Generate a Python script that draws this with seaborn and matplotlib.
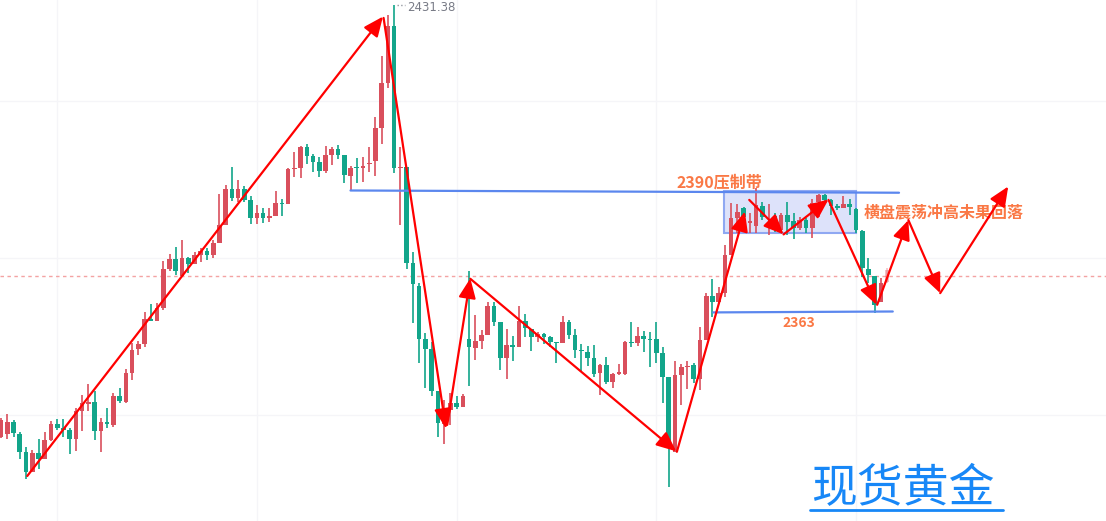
import numpy as np
import matplotlib
matplotlib.use('Agg')
import matplotlib.pyplot as plt
import seaborn as sns

# 现货黄金 K线（红涨绿跌）
opens = [
    2335.1, 2335.8, 2338.5, 2335.8, 2331.8, 2327.3, 2331.5, 2330.2, 2334.4, 2338.0,
    2337.1, 2336.7, 2334.7, 2340.9, 2342.5, 2342.9, 2336.4, 2338.5, 2337.8, 2344.3,
    2342.9, 2349.4, 2354.7, 2355.9, 2361.4, 2361.0, 2363.9, 2372.6, 2374.8, 2371.0,
    2375.0, 2373.7, 2375.7, 2376.6, 2375.7, 2378.4, 2382.4, 2390.4, 2388.4, 2390.4,
    2388.0, 2384.0, 2385.1, 2384.0, 2384.4, 2387.3, 2387.1, 2394.9, 2395.1, 2399.8,
    2397.8, 2396.5, 2394.5, 2398.0, 2399.4, 2398.0, 2393.3, 2395.3, 2395.1, 2396.0,
    2396.7, 2404.0, 2414.1, 2426.8, 2395.1, 2395.3, 2373.9, 2368.8, 2357.0, 2354.7,
    2345.4, 2338.0, 2341.1, 2342.7, 2341.8, 2357.0, 2355.0, 2356.5, 2357.9, 2364.3,
    2360.8, 2352.7, 2355.6, 2355.2, 2361.0, 2359.2, 2357.4, 2358.1, 2357.4, 2356.3,
    2356.1, 2360.8, 2357.9, 2354.5, 2354.1, 2352.7, 2349.4, 2351.2, 2347.4, 2349.2,
    2349.2, 2356.3, 2356.1, 2357.6, 2357.0, 2357.0, 2353.8, 2348.5, 2331.8, 2348.9,
    2350.7, 2351.2, 2348.0, 2356.7, 2366.6, 2365.2, 2367.2, 2375.7, 2384.0, 2386.2,
    2382.8, 2382.2, 2386.6, 2382.6, 2384.4, 2381.3, 2384.6, 2383.3, 2381.7, 2383.5,
    2381.7, 2387.5, 2389.1, 2388.0, 2386.6, 2386.2, 2387.1, 2386.0, 2381.1, 2372.6,
    2371.0, 2365.2, 2369.7]

closes = [
    2338.9, 2338.5, 2336.0, 2331.8, 2327.3, 2331.5, 2330.2, 2334.4, 2338.0, 2337.1,
    2336.7, 2334.7, 2340.9, 2342.7, 2342.7, 2336.4, 2338.5, 2338.0, 2344.3, 2343.1,
    2349.4, 2354.5, 2355.9, 2361.4, 2361.0, 2363.9, 2372.6, 2374.8, 2372.1, 2375.0,
    2373.7, 2375.7, 2376.6, 2375.7, 2378.4, 2382.4, 2390.4, 2388.4, 2390.4, 2388.0,
    2384.0, 2385.1, 2384.0, 2384.4, 2387.3, 2387.1, 2394.9, 2395.1, 2399.8, 2397.8,
    2396.5, 2394.5, 2398.0, 2399.4, 2398.0, 2393.6, 2395.1, 2395.1, 2395.6, 2396.2,
    2404.0, 2414.1, 2426.8, 2395.1, 2395.3, 2373.9, 2369.2, 2357.0, 2354.7, 2345.4,
    2338.2, 2341.1, 2342.7, 2341.8, 2344.3, 2355.2, 2356.5, 2357.9, 2364.3, 2360.8,
    2352.7, 2355.6, 2355.2, 2361.0, 2359.4, 2357.4, 2358.1, 2357.4, 2356.3, 2356.1,
    2360.8, 2357.9, 2354.5, 2354.3, 2352.7, 2349.2, 2351.2, 2347.4, 2349.2, 2349.4,
    2356.3, 2356.1, 2357.6, 2357.0, 2356.7, 2353.8, 2348.5, 2332.9, 2348.9, 2350.7,
    2350.9, 2348.0, 2356.7, 2366.6, 2365.2, 2367.2, 2375.7, 2384.0, 2385.3, 2384.2,
    2383.3, 2386.9, 2384.2, 2382.8, 2381.7, 2384.6, 2383.1, 2381.7, 2383.5, 2381.7,
    2387.3, 2389.1, 2388.0, 2386.6, 2386.2, 2387.1, 2386.4, 2381.3, 2372.8, 2371.2,
    2364.6, 2369.5, 2372.4]

highs = [
    2339.3, 2340.2, 2338.9, 2336.2, 2332.9, 2332.2, 2334.7, 2336.2, 2338.7, 2339.1,
    2339.1, 2337.1, 2341.6, 2344.5, 2346.9, 2345.4, 2339.3, 2341.6, 2344.9, 2346.0,
    2350.3, 2356.1, 2356.5, 2363.0, 2364.8, 2365.0, 2374.4, 2375.9, 2377.5, 2379.1,
    2375.3, 2376.4, 2377.3, 2377.3, 2379.1, 2389.3, 2391.3, 2395.3, 2392.4, 2391.1,
    2388.9, 2386.9, 2386.2, 2386.2, 2390.0, 2388.2, 2395.1, 2398.7, 2400.0, 2400.5,
    2398.2, 2397.6, 2400.0, 2399.8, 2400.3, 2398.0, 2395.6, 2397.3, 2397.6, 2399.8,
    2406.5, 2420.1, 2429.3, 2431.38, 2399.8, 2395.3, 2376.4, 2369.5, 2358.3, 2356.3,
    2345.4, 2343.4, 2344.9, 2344.3, 2344.7, 2372.1, 2362.3, 2359.0, 2365.2, 2365.2,
    2360.8, 2359.2, 2357.6, 2364.3, 2362.5, 2359.2, 2358.5, 2358.3, 2357.6, 2356.3,
    2362.1, 2361.2, 2359.2, 2355.9, 2355.4, 2355.6, 2351.4, 2352.9, 2349.4, 2351.4,
    2356.5, 2360.8, 2359.6, 2358.8, 2358.5, 2360.8, 2355.2, 2348.5, 2352.1, 2351.4,
    2352.1, 2351.6, 2359.6, 2367.2, 2370.4, 2368.6, 2377.9, 2387.3, 2387.1, 2386.4,
    2385.1, 2390.7, 2387.5, 2387.1, 2385.1, 2385.1, 2387.5, 2385.1, 2384.2, 2384.0,
    2388.2, 2389.3, 2389.3, 2388.2, 2387.1, 2388.9, 2388.2, 2386.2, 2381.3, 2375.0,
    2371.0, 2370.6, 2372.8]

lows = [
    2334.9, 2334.7, 2335.1, 2330.2, 2325.7, 2327.3, 2328.0, 2330.2, 2334.2, 2336.7,
    2335.1, 2331.3, 2332.0, 2336.4, 2340.9, 2334.4, 2331.8, 2337.1, 2337.3, 2342.7,
    2342.7, 2347.8, 2353.4, 2355.2, 2361.0, 2361.0, 2363.4, 2372.1, 2371.2, 2371.0,
    2371.7, 2373.7, 2374.1, 2374.6, 2375.0, 2378.4, 2382.4, 2387.8, 2387.5, 2387.5,
    2382.6, 2382.6, 2382.8, 2383.1, 2384.4, 2384.4, 2387.1, 2393.1, 2392.9, 2396.0,
    2394.2, 2393.1, 2394.0, 2395.8, 2397.1, 2391.8, 2390.2, 2391.8, 2392.0, 2394.2,
    2393.3, 2400.5, 2413.0, 2394.0, 2382.4, 2372.6, 2360.5, 2351.6, 2346.0, 2344.3,
    2335.1, 2333.5, 2337.8, 2341.4, 2341.8, 2346.5, 2352.3, 2354.7, 2357.9, 2359.9,
    2350.1, 2348.0, 2352.1, 2355.2, 2357.4, 2354.3, 2356.3, 2355.9, 2355.2, 2351.6,
    2356.1, 2357.0, 2352.7, 2349.6, 2350.9, 2348.5, 2344.5, 2346.9, 2346.0, 2348.9,
    2348.9, 2355.2, 2355.4, 2354.1, 2350.7, 2351.6, 2342.7, 2324.0, 2331.8, 2342.2,
    2345.8, 2347.2, 2345.6, 2356.7, 2361.9, 2365.0, 2366.3, 2375.7, 2380.6, 2380.8,
    2380.6, 2380.6, 2383.5, 2380.2, 2380.8, 2380.6, 2380.2, 2379.3, 2381.3, 2380.6,
    2379.5, 2384.2, 2387.5, 2384.6, 2385.7, 2386.2, 2384.6, 2380.6, 2370.8, 2369.5,
    2362.8, 2365.2, 2369.5]

high_label = 2431.38
resist_level = 2390.0
support_level = 2363.0
last_price = 2371.0

# 走势箭头 (起点K线序号, 起点价格, 终点K线序号, 终点价格)
arrows = [
    (4.2, 2326.4, 61.2, 2428.9),
    (61.3, 2428.6, 71.3, 2337.0),
    (71.5, 2337.8, 75.2, 2370.5),
    (75.2, 2370.4, 108.2, 2331.9),
    (108.3, 2331.8, 119.2, 2385.4),
    (119.9, 2388.0, 125.4, 2380.3),
    (125.4, 2380.3, 132.6, 2388.1),
    (132.6, 2388.0, 140.3, 2364.6),
    (140.4, 2364.6, 145.4, 2383.5),
    (145.4, 2383.5, 150.5, 2367.2),
    (150.5, 2367.2, 161.4, 2391.0),
]

UP = '#d94f5c'
DOWN = '#12a58a'
ORANGE = '#fa7845'
BLUE = '#5b87ee'

sns.set_style('white')
plt.rcParams['font.family'] = ['Noto Sans CJK SC', 'DejaVu Sans']

fig = plt.figure(figsize=(11.06, 5.21), dpi=100)
ax = fig.add_axes([0, 0, 1, 1])

o = np.array(opens)
c = np.array(closes)
h = np.array(highs)
l = np.array(lows)
x = np.arange(len(o))
cols = np.where(c >= o, UP, DOWN)
alphas = np.ones(len(o))
alphas[-1] = 0.35

# 网格
for gx in [9, 41, 73, 105, 137]:
    ax.axvline(gx, color='#f5f5f8', lw=1.0, zorder=0)
for gy in [2340, 2375, 2410]:
    ax.axhline(gy, color='#f5f5f8', lw=1.0, zorder=0)

# 震荡区间
ax.add_patch(plt.Rectangle((115.9, 2380.55), 137.0 - 115.9, resist_level - 2380.55,
                           facecolor='#dde2fa', edgecolor='#8fa8f2', lw=1.5, zorder=1))

# K线
for i in x:
    ax.vlines(i, l[i], h[i], color=cols[i], lw=1.2, alpha=alphas[i], zorder=2)
    body = max(abs(c[i] - o[i]), 0.3)
    ax.bar(i, body, bottom=min(o[i], c[i]), width=0.74, color=cols[i],
           alpha=alphas[i], zorder=3, linewidth=0)

# 当前价虚线
ax.axhline(last_price, color='#f4a3a3', lw=1, ls=(0, (2.5, 2.5)), zorder=1.5)

# 压力/支撑线
ax.plot([56.0, 143.9], [resist_level + 0.1, resist_level - 0.4], color=BLUE, lw=1.6, zorder=4)
ax.plot([114.1, 142.9], [support_level - 0.1, support_level + 0.1], color=BLUE, lw=1.6, zorder=4)

# 箭头
for x0, y0, x1, y1 in arrows:
    ax.annotate('', xy=(x1, y1), xytext=(x0, y0),
                arrowprops=dict(arrowstyle='-|>,head_length=0.8,head_width=0.35',
                                color='#ff0000', lw=1.6, shrinkA=0, shrinkB=0,
                                mutation_scale=15),
                zorder=6)

# 文字
ax.plot([63.5, 64.7], [high_label, high_label], color='#9598a1', lw=1, ls=':', zorder=4)
ax.text(65.1, 2431.0, f'{high_label:.2f}', color='#787b86', fontsize=8.5,
        ha='left', va='center', family=['DejaVu Sans'])
ax.text(108.3, 2391.9, '2390压制带', color=ORANGE, fontsize=11.5, fontweight='bold',
        ha='left', va='center')
ax.text(138.3, 2385.3, '横盘震荡冲高未果回落', color=ORANGE, fontsize=11.5,
        fontweight='bold', ha='left', va='center')
ax.text(125.3, 2360.5, '2363', color=ORANGE, fontsize=10, fontweight='bold',
        ha='left', va='center')

ax.text(0.733, 0.036, '现货黄金', color='#1787f7', fontsize=33, fontweight='light',
        ha='left', va='baseline', transform=ax.transAxes)
ax.plot([0.732, 0.907], [0.021, 0.021], color='#1787f7', lw=2,
        transform=ax.transAxes)

ax.set_xlim(-0.17, 177.07)
ax.set_ylim(2316.36, 2432.6)
ax.set_xticks([])
ax.set_yticks([])
for s in ax.spines.values():
    s.set_visible(False)

fig.savefig('out.png', dpi=100)
